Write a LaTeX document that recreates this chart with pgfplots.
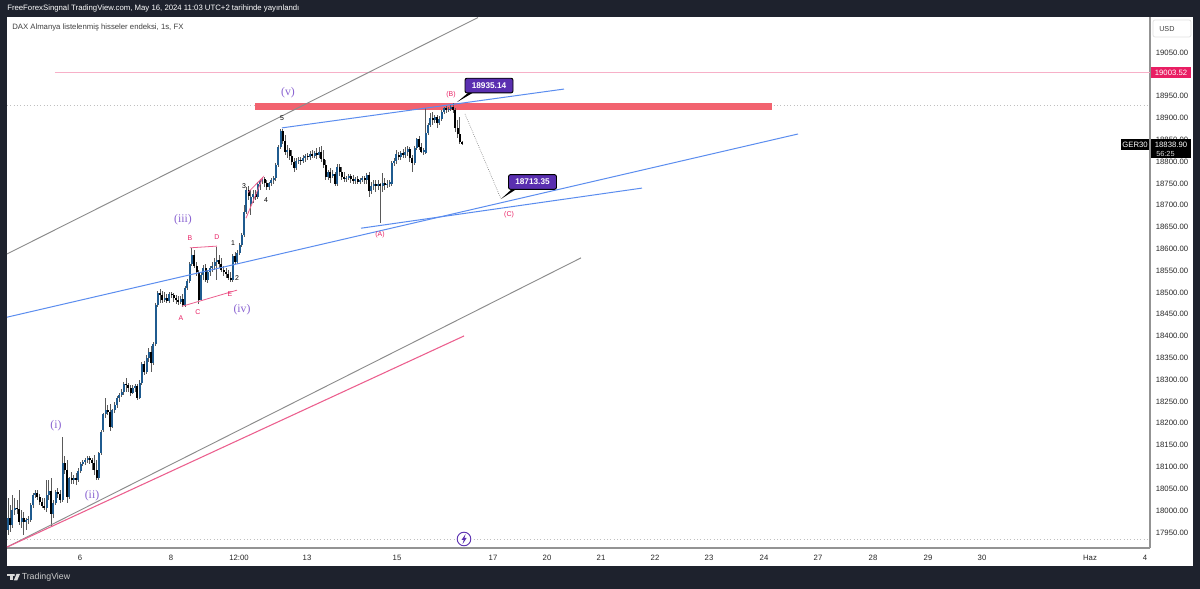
\documentclass[border=0pt]{standalone}
\usepackage{fontspec}
\setmainfont{Liberation Sans}
\newfontfamily\ser{Liberation Serif}
\usepackage{pgfplots}
\usepackage{pgfplotstable}
\pgfplotsset{compat=1.18}
\definecolor{frame}{HTML}{1E222D}
\definecolor{upb}{HTML}{1F5B8F}
\definecolor{wick}{HTML}{5A5A5A}
\definecolor{tl}{HTML}{5B8DEF}
\definecolor{gl}{HTML}{8C8C8C}
\definecolor{pl}{HTML}{EC5F8E}
\definecolor{pk}{HTML}{E91E63}
\definecolor{vio}{HTML}{8A63D2}
\definecolor{callout}{HTML}{5A2FB0}
\definecolor{band}{HTML}{F2636F}
\pgfplotstableread{
x o c h l
8.0 17954 17982 18028 17943
10.3 17982 17966 18011 17950
12.5 17966 18000 18034 17959
14.8 18000 18005 18028 17989
17.1 18005 18002 18023 17991
19.4 18002 17972 18046 17966
21.6 17972 17982 18000 17959
23.9 17982 17972 17995 17943
26.2 17972 17977 17982 17954
28.4 17977 17979 17986 17968
30.7 17977 18011 18016 17972
33.0 18011 18034 18039 18005
35.2 18034 18039 18046 18028
37.5 18039 18030 18046 18023
39.8 18030 18018 18037 18011
42.0 18018 18009 18028 18005
44.3 18009 18005 18028 18000
46.6 18005 18034 18069 17995
48.9 18034 18044 18069 18023
51.1 18044 17991 18073 17963
53.4 17991 18016 18023 17982
55.7 18016 18041 18046 18011
57.9 18041 18037 18050 18028
60.2 18037 18023 18046 18016
62.5 18023 18108 18167 18018
64.8 18108 18092 18124 18083
67.0 18092 18030 18115 18016
69.3 18030 18073 18076 18025
71.6 18073 18069 18087 18060
73.8 18069 18073 18080 18060
76.1 18073 18069 18085 18057
78.4 18069 18089 18096 18064
80.7 18089 18105 18110 18085
82.9 18105 18110 18115 18101
85.2 18110 18115 18119 18103
87.5 18115 18119 18124 18108
89.8 18119 18115 18124 18105
92.0 18115 18108 18119 18092
94.3 18108 18092 18126 18080
96.6 18092 18073 18115 18069
98.9 18073 18131 18133 18069
101.2 18131 18179 18183 18126
103.3 18183 18220 18222 18179
105.6 18220 18229 18257 18211
107.9 18229 18225 18241 18218
110.2 18225 18190 18243 18181
112.4 18190 18229 18232 18188
114.7 18229 18241 18248 18222
117.0 18241 18257 18261 18234
119.2 18257 18264 18268 18248
121.5 18264 18271 18277 18259
123.8 18271 18289 18293 18264
126.0 18289 18287 18303 18271
128.3 18287 18280 18291 18271
130.6 18280 18268 18287 18261
132.9 18268 18280 18287 18266
135.1 18280 18284 18289 18271
137.4 18284 18257 18289 18252
139.7 18257 18291 18298 18254
141.9 18291 18335 18339 18287
144.2 18335 18316 18342 18309
146.5 18316 18348 18355 18312
148.7 18348 18362 18371 18339
151.0 18362 18337 18376 18316
153.3 18337 18381 18385 18332
155.6 18381 18470 18475 18376
157.8 18470 18497 18502 18465
160.1 18497 18493 18507 18475
162.4 18493 18481 18502 18475
164.7 18481 18486 18500 18477
166.9 18486 18479 18495 18475
169.2 18479 18495 18500 18475
171.5 18495 18493 18500 18486
173.7 18493 18486 18497 18477
176.0 18486 18481 18493 18472
178.3 18481 18477 18491 18470
180.5 18477 18484 18491 18472
182.8 18484 18470 18495 18465
185.1 18470 18509 18514 18465
187.4 18509 18525 18530 18504
189.6 18525 18564 18569 18520
191.9 18564 18585 18601 18559
194.2 18585 18559 18596 18555
196.5 18559 18546 18569 18536
198.7 18546 18481 18550 18472
201.0 18481 18539 18546 18479
203.3 18539 18555 18562 18527
205.6 18555 18527 18564 18523
207.8 18527 18546 18550 18520
210.1 18546 18555 18559 18536
212.4 18555 18559 18569 18546
214.6 18559 18569 18578 18550
216.9 18569 18573 18603 18527
219.2 18573 18564 18585 18555
221.4 18564 18550 18578 18546
223.7 18550 18546 18559 18536
226.0 18546 18541 18555 18532
228.3 18541 18532 18550 18527
230.5 18532 18527 18546 18523
232.8 18527 18582 18587 18523
235.0 18582 18569 18591 18564
237.3 18569 18589 18596 18564
239.6 18589 18607 18612 18585
241.9 18607 18630 18635 18603
244.1 18630 18683 18699 18626
246.4 18683 18734 18740 18679
248.7 18734 18720 18743 18711
250.9 18702 18718 18734 18676
253.2 18718 18724 18734 18704
255.5 18724 18718 18734 18711
257.8 18718 18747 18752 18713
260.0 18747 18754 18759 18734
262.3 18754 18759 18763 18747
264.6 18759 18750 18763 18740
266.8 18750 18740 18757 18734
269.1 18740 18750 18752 18734
271.4 18750 18757 18761 18743
273.6 18757 18761 18766 18747
275.9 18761 18791 18795 18754
278.2 18791 18832 18837 18786
280.5 18832 18869 18873 18828
282.7 18869 18846 18873 18839
285.0 18846 18821 18860 18814
287.3 18821 18825 18837 18807
289.5 18825 18812 18830 18802
291.8 18812 18798 18825 18791
294.1 18798 18784 18807 18775
296.4 18784 18800 18807 18779
298.6 18800 18802 18809 18793
300.9 18802 18800 18809 18791
303.2 18800 18807 18814 18795
305.4 18807 18812 18816 18798
307.7 18812 18809 18818 18802
310.0 18809 18816 18823 18802
312.2 18816 18812 18825 18807
314.5 18812 18818 18823 18807
316.8 18818 18814 18830 18805
319.1 18814 18821 18832 18807
321.3 18821 18805 18834 18798
323.6 18805 18791 18825 18784
325.9 18791 18763 18802 18757
328.1 18763 18775 18779 18757
330.4 18775 18761 18784 18750
332.7 18766 18770 18779 18761
335.0 18770 18747 18775 18743
337.3 18747 18786 18793 18743
339.5 18786 18775 18793 18766
341.8 18775 18763 18786 18757
344.1 18763 18759 18775 18752
346.3 18759 18761 18766 18752
348.6 18761 18766 18770 18757
350.9 18766 18759 18770 18750
353.2 18759 18754 18768 18747
355.4 18754 18759 18763 18747
357.7 18759 18752 18766 18747
360.0 18752 18757 18761 18747
362.2 18757 18761 18766 18752
364.5 18761 18757 18766 18747
366.8 18757 18768 18773 18747
369.1 18768 18731 18775 18718
371.3 18731 18743 18752 18724
373.6 18743 18747 18757 18734
375.9 18747 18743 18757 18729
378.1 18743 18747 18757 18734
380.4 18747 18743 18750 18658
382.7 18743 18750 18773 18729
384.9 18750 18745 18761 18734
387.2 18745 18747 18757 18738
389.5 18747 18752 18757 18740
391.8 18747 18795 18800 18743
394.0 18795 18800 18807 18789
396.3 18800 18816 18825 18793
398.6 18814 18809 18821 18802
400.8 18809 18818 18823 18802
403.1 18818 18814 18828 18807
405.4 18814 18821 18832 18807
407.7 18821 18828 18834 18812
409.9 18828 18807 18832 18798
412.2 18807 18795 18814 18775
414.5 18795 18830 18834 18791
416.7 18830 18851 18853 18825
419.0 18851 18832 18857 18825
421.3 18832 18821 18841 18818
423.5 18821 18825 18830 18814
425.8 18818 18864 18922 18816
428.1 18864 18882 18887 18860
430.4 18882 18899 18910 18878
432.6 18899 18894 18912 18882
434.9 18894 18901 18906 18887
437.2 18901 18887 18906 18876
439.4 18887 18896 18903 18882
441.7 18896 18912 18917 18892
444.0 18912 18922 18924 18908
446.2 18922 18917 18926 18910
448.5 18917 18919 18924 18912
450.8 18919 18924 18928 18915
453.1 18924 18917 18933 18910
455.3 18917 18876 18922 18867
457.6 18876 18862 18894 18853
459.9 18862 18844 18901 18839
462.2 18844 18839 18846 18837
}\candles
\begin{document}
\begin{tikzpicture}
\useasboundingbox (0,0) rectangle (900pt,441.75pt);
\fill[frame] (0,0) rectangle (900pt,441.75pt);
\fill[white] (5.25pt,17.25pt) rectangle (894.75pt,428.625pt);
\begin{axis}[
  at={(5.25pt,30.75pt)}, anchor=south west,
  scale only axis, width=857.25pt, height=397.875pt,
  xmin=7, xmax=1150, ymin=17912.9, ymax=19129.06,
  clip=false,
  axis x line*=bottom, axis y line*=right,
  axis line style={-, draw=gray!85, line width=0.9pt},
  major tick length=0pt,
  xtick={80,171,239,307,397,493,547,601,655,709,764,818,873,928,982,1090,1145},
  xticklabels={6,8,12:00,13,15,17,20,21,22,23,24,27,28,29,30,Haz,4},
  ytick={17950,18000,...,19050},
  yticklabel pos=right,
  /pgf/number format/assume math mode=true,
  /pgf/number format/fixed, /pgf/number format/fixed zerofill,
  /pgf/number format/precision=2, /pgf/number format/1000 sep={},
  scaled y ticks=false,
  yticklabel style={anchor=center, xshift=16.5pt, yshift=-0.4pt, font=\fontsize{5.8}{7}\selectfont, text=black!85},
  xticklabel style={anchor=center, yshift=-7.2pt, font=\fontsize{5.8}{7}\selectfont, text=black!85},
]
% horizontal reference lines
\addplot[gray!50, dotted, line width=0.5pt, forget plot] coordinates {(7,18928) (1150,18928)};
\addplot[gray!50, dotted, line width=0.5pt, forget plot] coordinates {(7,17933) (1150,17933)};
\addplot[pk!35, line width=0.75pt, forget plot] coordinates {(55,19003.52) (1150,19003.52)};
% resistance band
\addplot[fill=band, draw=none, forget plot] coordinates {(255,18917) (772,18917) (772,18933) (255,18933)} -- cycle;
% wicks
\addplot[draw=none, forget plot, error bars/.cd, y dir=both, y explicit, error mark=none,
  error bar style={draw=wick, line width=0.65pt, solid}]
  table[x=x, y=c, y error plus expr=\thisrow{h}-\thisrow{c}, y error minus expr=\thisrow{c}-\thisrow{l}] {\candles};
% bodies, up
\addplot[draw=none, forget plot, x filter/.expression={\thisrow{c}>\thisrow{o} ? x : nan},
  error bars/.cd, y dir=minus, y explicit, error mark=none,
  error bar style={draw=upb, line width=1.5pt, solid}]
  table[x=x, y=c, y error minus expr=\thisrow{c}-\thisrow{o}] {\candles};
% bodies, down
\addplot[draw=none, forget plot, x filter/.expression={\thisrow{c}>\thisrow{o} ? nan : x},
  error bars/.cd, y dir=plus, y explicit, error mark=none,
  error bar style={draw=black, line width=1.5pt, solid}]
  table[x=x, y=c, y error plus expr=\thisrow{o}-\thisrow{c}] {\candles};
% trend lines
\addplot[gl, line width=0.7pt, forget plot] coordinates {(7,18587) (478,19129)};
\addplot[gl, line width=0.7pt, forget plot] coordinates {(7,17915) (581,18578)};
\addplot[pl, line width=0.8pt, forget plot] coordinates {(7,17915) (464,18399)};
\addplot[tl, line width=0.75pt, forget plot] coordinates {(7,18442) (798,18862)};
\addplot[tl, line width=0.75pt, forget plot] coordinates {(282,18876) (564,18965)};
\addplot[tl, line width=0.75pt, forget plot] coordinates {(361,18646) (642,18738)};
% small wave lines
\addplot[pl, line width=0.6pt, forget plot] coordinates {(190,18601) (217,18605)};
\addplot[pl, line width=0.6pt, forget plot] coordinates {(182,18467) (237,18504)};
\addplot[pl, line width=0.6pt, forget plot] coordinates {(246,18669) (263,18763) (248,18728)};
% projected move
\addplot[gray, densely dotted, line width=0.5pt, forget plot] coordinates {(465,18908) (501,18713)};
% callouts
\fill[black] (axis cs:457,18935) -- (axis cs:469,18958) -- (axis cs:474,18958) -- cycle;
\fill[black] (axis cs:501,18713) -- (axis cs:513,18738) -- (axis cs:518,18738) -- cycle;
\node[fill=callout, draw=black, line width=0.7pt, rounded corners=1.5pt, text=white, inner sep=0pt,
  minimum width=36pt, minimum height=11pt, font=\bfseries\fontsize{6.2}{7}\selectfont]
  at (axis cs:489,18973) {18935.14};
\node[fill=callout, draw=black, line width=0.7pt, rounded corners=1.5pt, text=white, inner sep=0pt,
  minimum width=36pt, minimum height=11pt, font=\bfseries\fontsize{6.2}{7}\selectfont]
  at (axis cs:532.5,18752) {18713.35};
% wave labels
\tikzset{wv/.style={text=vio, font=\ser\fontsize{8.8}{9}\selectfont, inner sep=0pt},
  pkl/.style={text=pk, font=\fontsize{5.2}{6}\selectfont, inner sep=0pt},
  bkl/.style={text=black, font=\fontsize{5.2}{6}\selectfont, inner sep=0pt}}
\node[wv] at (axis cs:56,18193) {(i)};
\node[wv] at (axis cs:92,18033) {(ii)};
\node[wv] at (axis cs:183,18665) {(iii)};
\node[wv] at (axis cs:242,18459) {(iv)};
\node[wv] at (axis cs:288,18957) {(v)};
\node[pkl] at (axis cs:181,18440) {A};
\node[pkl] at (axis cs:190,18624) {B};
\node[pkl] at (axis cs:198,18453) {C};
\node[pkl] at (axis cs:217,18626) {D};
\node[pkl] at (axis cs:230,18495) {E};
\node[pkl] at (axis cs:380,18630) {(A)};
\node[pkl] at (axis cs:451,18951) {(B)};
\node[pkl] at (axis cs:509,18678) {(C)};
\node[bkl] at (axis cs:233,18612) {1};
\node[bkl] at (axis cs:237,18532) {2};
\node[bkl] at (axis cs:244,18743) {3};
\node[bkl] at (axis cs:266,18710) {4};
\node[bkl] at (axis cs:282,18898) {5};
\end{axis}
% frame texts and price tags, in pixels of the reference
\begin{scope}[x=0.75pt, y=-0.75pt, yshift=441.75pt]
\node[anchor=west, inner sep=0pt, text=white, font=\fontsize{5.83}{7}\selectfont] at (7,8.8)
  {FreeForexSingnal TradingView.com, May 16, 2024 11:03 UTC+2 tarihinde yayınlandı};
\node[anchor=west, inner sep=0pt, text=black!75, font=\fontsize{5.82}{7}\selectfont] at (12,27.5)
  {DAX Almanya listelenmiş hisseler endeksi, 1s, FX};
% USD button
\draw[black!12, fill=white, rounded corners=1.5pt, line width=0.5pt] (1153,20) rectangle (1191,37);
\node[anchor=west, inner sep=0pt, text=black!75, font=\fontsize{5.4}{7}\selectfont] at (1159,29) {USD};
% price tags
\fill[pk] (1151,67.5) rectangle (1191,78);
\node[inner sep=0pt, text=white, font=\fontsize{5.8}{7}\selectfont] at (1171,73) {19003.52};
\fill[black] (1121,139.5) rectangle (1149,150);
\node[inner sep=0pt, text=white, font=\fontsize{5.8}{7}\selectfont] at (1135,145) {GER30};
\fill[black] (1151,139.5) rectangle (1191,158.5);
\node[inner sep=0pt, text=white, font=\fontsize{5.8}{7}\selectfont] at (1171,144.7) {18838.90};
\node[anchor=west, inner sep=0pt, text=white!85!black, font=\fontsize{5.5}{7}\selectfont] at (1156,154) {56:25};
% lightning icon
\draw[callout, fill=white, line width=0.7pt] (464,539) circle (6.8);
\fill[callout] (465.6,534) -- (461.6,539.8) -- (463.8,539.8) -- (462.6,544) -- (466.6,538) -- (464.4,538) -- cycle;
% TradingView logo
\fill[white!85!black] (7,574) rectangle (13.5,576.2);
\fill[white!85!black] (9.6,574) rectangle (13,580.5);
\fill[white!85!black] (14,575) circle (1.1);
\fill[white!85!black] (16.5,574) -- (20,574) -- (17.2,580.5) -- (13.8,580.5) -- cycle;
\node[anchor=west, inner sep=0pt, text=white!80!black, font=\fontsize{6.6}{8}\selectfont] at (21.5,577.5) {TradingView};
\end{scope}
\end{tikzpicture}
\end{document}
